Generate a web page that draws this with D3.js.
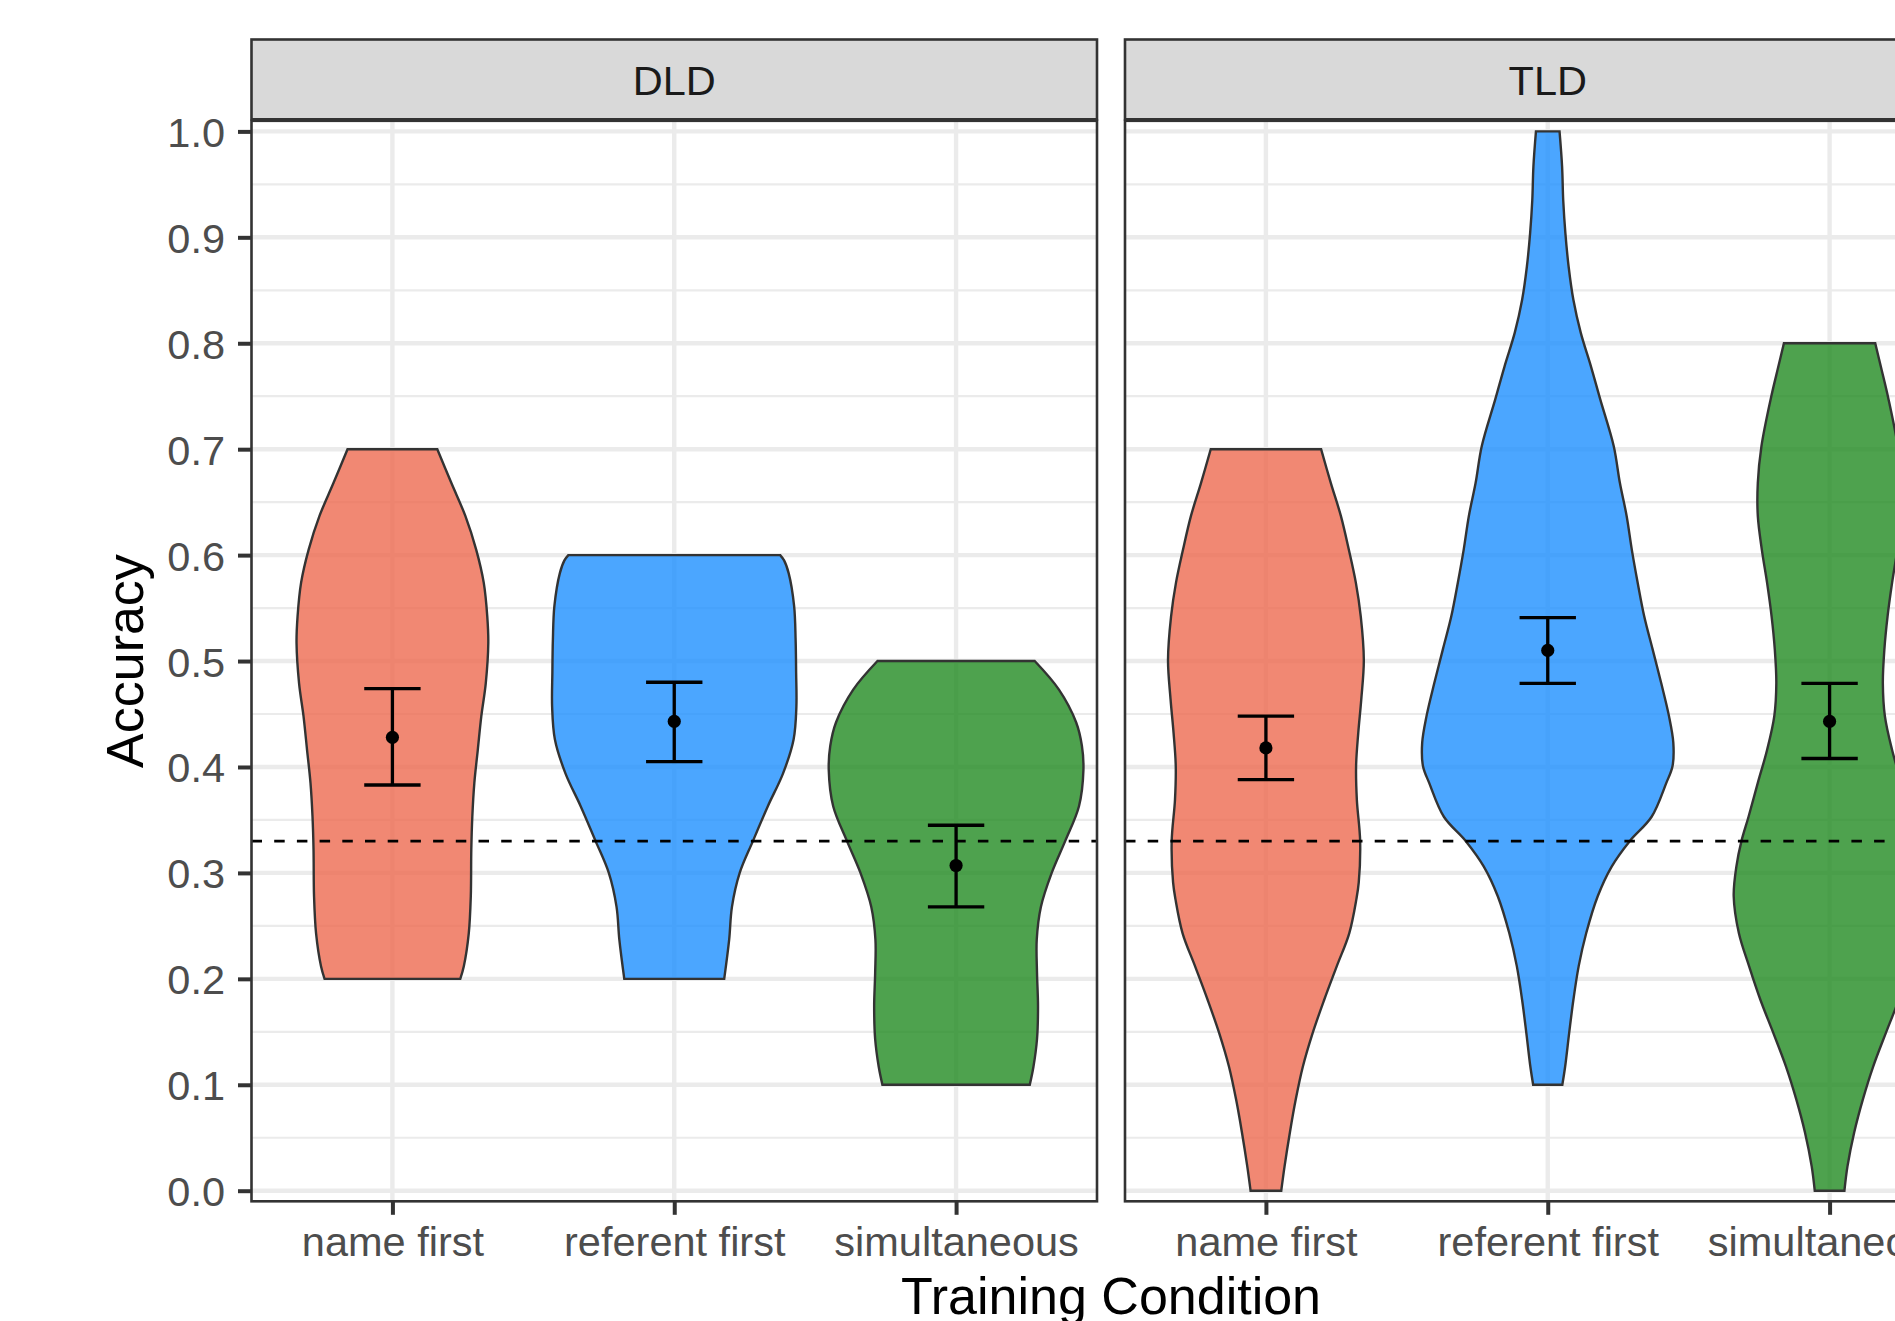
<!DOCTYPE html>
<html>
<head>
<meta charset="utf-8">
<title>Accuracy by training condition</title>
<script src="https://cdn.jsdelivr.net/npm/d3@7"></script>
<style>
  html, body { margin: 0; padding: 0; background: #ffffff; }
  svg { display: block; font-family: "Liberation Sans", Arial, Helvetica, sans-serif; }
</style>
</head>
<body>
<svg id="chart" width="1895" height="1321"></svg>
<script>
// ---------- data ----------
const groups = ["DLD", "TLD"];
const conditions = ["name first", "referent first", "simultaneous"];
const fillColors = ["#EE6A50", "#1E90FF", "#228B22"];
const yTickValues = [0, 0.1, 0.2, 0.3, 0.4, 0.5, 0.6, 0.7, 0.8, 0.9, 1.0];
const chanceLevel = 0.33;

// mean accuracy with 95% CI, per training condition
const dldMean  = [0.428, 0.443, 0.307];
const dldLower = [0.383, 0.405, 0.268];
const dldUpper = [0.474, 0.480, 0.345];
const tldMean  = [0.418, 0.510, 0.443];
const tldLower = [0.388, 0.479, 0.408];
const tldUpper = [0.448, 0.541, 0.479];

// violin outlines: [accuracy, relative density]
const dldNameFirst = [
  [0.700, 0.354], [0.668, 0.465], [0.637, 0.575], [0.605, 0.661], [0.574, 0.720],
  [0.542, 0.748], [0.517, 0.756], [0.479, 0.736], [0.448, 0.701], [0.416, 0.673],
  [0.385, 0.646], [0.353, 0.630], [0.322, 0.622], [0.278, 0.618], [0.243, 0.602],
  [0.212, 0.563], [0.200, 0.535]
];
const dldReferentFirst = [
  [0.600, 0.835], [0.595, 0.866], [0.583, 0.902], [0.552, 0.945], [0.520, 0.957],
  [0.489, 0.961], [0.457, 0.963], [0.426, 0.941], [0.394, 0.858], [0.363, 0.738],
  [0.330, 0.620], [0.300, 0.516], [0.268, 0.455], [0.237, 0.433], [0.200, 0.394]
];
const dldSimultaneous = [
  [0.500, 0.620], [0.473, 0.811], [0.442, 0.947], [0.420, 0.992], [0.397, 1.004],
  [0.363, 0.969], [0.330, 0.860], [0.300, 0.754], [0.268, 0.669], [0.237, 0.636],
  [0.206, 0.638], [0.174, 0.646], [0.143, 0.638], [0.117, 0.610], [0.100, 0.581]
];
const tldNameFirst = [
  [0.700, 0.435], [0.668, 0.512], [0.637, 0.591], [0.605, 0.654], [0.574, 0.709],
  [0.542, 0.748], [0.501, 0.772], [0.464, 0.752], [0.432, 0.728], [0.401, 0.711],
  [0.369, 0.717], [0.330, 0.743], [0.291, 0.732], [0.275, 0.713], [0.243, 0.657],
  [0.212, 0.559], [0.180, 0.459], [0.149, 0.369], [0.117, 0.291], [0.086, 0.235],
  [0.055, 0.189], [0.023, 0.147], [0.000, 0.121]
];
const tldReferentFirst = [
  [1.000, 0.093], [0.967, 0.113], [0.935, 0.122], [0.904, 0.139], [0.872, 0.165],
  [0.841, 0.202], [0.810, 0.260], [0.778, 0.341], [0.747, 0.414], [0.703, 0.520],
  [0.668, 0.569], [0.637, 0.622], [0.605, 0.663], [0.574, 0.709], [0.542, 0.761],
  [0.511, 0.827], [0.479, 0.895], [0.448, 0.956], [0.423, 0.990], [0.401, 0.984],
  [0.385, 0.935], [0.353, 0.819], [0.330, 0.646], [0.306, 0.504], [0.278, 0.394],
  [0.243, 0.303], [0.212, 0.244], [0.180, 0.202], [0.149, 0.169], [0.117, 0.137],
  [0.100, 0.115]
];
const tldSimultaneous = [
  [0.800, 0.360], [0.778, 0.404], [0.747, 0.465], [0.703, 0.537], [0.668, 0.566],
  [0.637, 0.566], [0.605, 0.534], [0.574, 0.493], [0.542, 0.457], [0.511, 0.432],
  [0.479, 0.420], [0.448, 0.436], [0.416, 0.493], [0.385, 0.566], [0.353, 0.639],
  [0.330, 0.695], [0.306, 0.735], [0.278, 0.756], [0.243, 0.715], [0.212, 0.635],
  [0.180, 0.545], [0.149, 0.444], [0.117, 0.343], [0.086, 0.262], [0.055, 0.194],
  [0.023, 0.141], [0.000, 0.117]
];

// assemble one record per facet
const facets = [
  { group: groups[0], mean: dldMean, lower: dldLower, upper: dldUpper,
    violins: [dldNameFirst, dldReferentFirst, dldSimultaneous] },
  { group: groups[1], mean: tldMean, lower: tldLower, upper: tldUpper,
    violins: [tldNameFirst, tldReferentFirst, tldSimultaneous] }
];

// ---------- layout ----------
const svg = d3.select("#chart");
const stripTop = 39.5;
const stripBottom = 119.3;
const panelTop = 120.8;
const panelBottom = 1201.3;
const firstPanelLeft = 251.5;
const panelWidth = 845.5;
const panelGap = 28;
const lineDark = "#333333";
const tickSize = 13.5;
const fontStack = "'Liberation Sans', Arial, Helvetica, sans-serif";

svg.append("rect").attr("width", 1895).attr("height", 1321).attr("fill", "#ffffff");

const y = d3.scaleLinear().domain([-0.01, 1.01]).range([panelBottom, panelTop]);
const minorTicks = d3.range(0.05, 1.0, 0.1);

facets.forEach((facet, i) => {
  const left = firstPanelLeft + i * (panelWidth + panelGap);
  const right = left + panelWidth;
  const x = d3.scalePoint().domain(conditions).range([left, right]).padding(0.5);
  const halfWidth = d3.scaleLinear().domain([0, 1]).range([0, 0.45 * x.step()]);

  const panel = svg.append("g").attr("class", "panel");

  // background
  panel.append("rect")
    .attr("x", left).attr("y", panelTop)
    .attr("width", panelWidth).attr("height", panelBottom - panelTop)
    .attr("fill", "#ffffff");

  // grid
  panel.append("g").selectAll("line").data(minorTicks).join("line")
    .attr("x1", left).attr("x2", right)
    .attr("y1", d => y(d)).attr("y2", d => y(d))
    .attr("stroke", "#EBEBEB").attr("stroke-width", 2.2);
  panel.append("g").selectAll("line").data(yTickValues).join("line")
    .attr("x1", left).attr("x2", right)
    .attr("y1", d => y(d)).attr("y2", d => y(d))
    .attr("stroke", "#EBEBEB").attr("stroke-width", 4.4);
  panel.append("g").selectAll("line").data(conditions).join("line")
    .attr("x1", d => x(d)).attr("x2", d => x(d))
    .attr("y1", panelTop).attr("y2", panelBottom)
    .attr("stroke", "#EBEBEB").attr("stroke-width", 4.4);

  // violins
  facet.violins.forEach((profile, k) => {
    const cx = x(conditions[k]);
    const area = d3.area()
      .y(d => y(d[0]))
      .x0(d => cx - halfWidth(d[1]))
      .x1(d => cx + halfWidth(d[1]))
      .curve(d3.curveCatmullRom.alpha(0.5));
    panel.append("path")
      .datum(profile)
      .attr("d", area)
      .attr("fill", fillColors[k])
      .attr("fill-opacity", 0.8)
      .attr("stroke", lineDark)
      .attr("stroke-width", 2.4)
      .attr("stroke-linejoin", "miter");
  });

  // mean and confidence interval
  const capHalf = 0.1 * x.step();
  const stats = conditions.map((c, k) => ({
    c, mean: facet.mean[k], lower: facet.lower[k], upper: facet.upper[k]
  }));
  const eb = panel.append("g").attr("stroke", "#000").attr("stroke-width", 3.3);
  eb.selectAll(".stem").data(stats).join("line").attr("class", "stem")
    .attr("x1", d => x(d.c)).attr("x2", d => x(d.c))
    .attr("y1", d => y(d.lower)).attr("y2", d => y(d.upper));
  eb.selectAll(".capTop").data(stats).join("line").attr("class", "capTop")
    .attr("x1", d => x(d.c) - capHalf).attr("x2", d => x(d.c) + capHalf)
    .attr("y1", d => y(d.upper)).attr("y2", d => y(d.upper));
  eb.selectAll(".capBottom").data(stats).join("line").attr("class", "capBottom")
    .attr("x1", d => x(d.c) - capHalf).attr("x2", d => x(d.c) + capHalf)
    .attr("y1", d => y(d.lower)).attr("y2", d => y(d.lower));
  panel.append("g").selectAll("circle").data(stats).join("circle")
    .attr("cx", d => x(d.c)).attr("cy", d => y(d.mean))
    .attr("r", 6.6).attr("fill", "#000");

  // chance level
  panel.append("line")
    .attr("x1", left).attr("x2", right)
    .attr("y1", y(chanceLevel)).attr("y2", y(chanceLevel))
    .attr("stroke", "#000").attr("stroke-width", 2.8)
    .attr("stroke-dasharray", "10.5,12.2");

  // panel border
  panel.append("rect")
    .attr("x", left).attr("y", panelTop)
    .attr("width", panelWidth).attr("height", panelBottom - panelTop)
    .attr("fill", "none").attr("stroke", lineDark).attr("stroke-width", 2.6);

  // facet strip
  panel.append("rect")
    .attr("x", left).attr("y", stripTop)
    .attr("width", panelWidth).attr("height", stripBottom - stripTop)
    .attr("fill", "#D9D9D9").attr("stroke", lineDark).attr("stroke-width", 2.6);
  panel.append("text")
    .attr("x", (left + right) / 2).attr("y", 95)
    .attr("text-anchor", "middle")
    .attr("font-size", 41.5).attr("fill", "#1A1A1A")
    .text(facet.group);

  // x axis
  const xAxis = svg.append("g")
    .attr("transform", `translate(0,${panelBottom})`)
    .call(d3.axisBottom(x).tickSize(tickSize).tickPadding(11.7));
  xAxis.select(".domain").remove();
  xAxis.selectAll(".tick line").attr("stroke", lineDark).attr("stroke-width", 4);
  xAxis.selectAll(".tick text")
    .attr("font-size", 41.5).attr("fill", "#4D4D4D")
    .attr("font-family", fontStack);

  // y axis on the first facet only
  if (i === 0) {
    const yAxis = svg.append("g")
      .attr("transform", `translate(${left},0)`)
      .call(d3.axisLeft(y).tickValues(yTickValues).tickFormat(d3.format(".1f"))
        .tickSize(tickSize).tickPadding(13));
    yAxis.select(".domain").remove();
    yAxis.selectAll(".tick line").attr("stroke", lineDark).attr("stroke-width", 4);
    yAxis.selectAll(".tick text")
      .attr("font-size", 41.5).attr("fill", "#4D4D4D").attr("dy", "0.36em")
      .attr("font-family", fontStack);
  }
});

// axis titles
const plotLeft = firstPanelLeft;
const plotRight = firstPanelLeft + 2 * panelWidth + panelGap;
svg.append("text")
  .attr("x", (plotLeft + plotRight) / 2).attr("y", 1314)
  .attr("text-anchor", "middle")
  .attr("font-size", 52).attr("fill", "#000")
  .text("Training Condition");
svg.append("text")
  .attr("transform", `translate(143,${(panelTop + panelBottom) / 2}) rotate(-90)`)
  .attr("text-anchor", "middle")
  .attr("font-size", 52).attr("fill", "#000")
  .text("Accuracy");
</script>
</body>
</html>
